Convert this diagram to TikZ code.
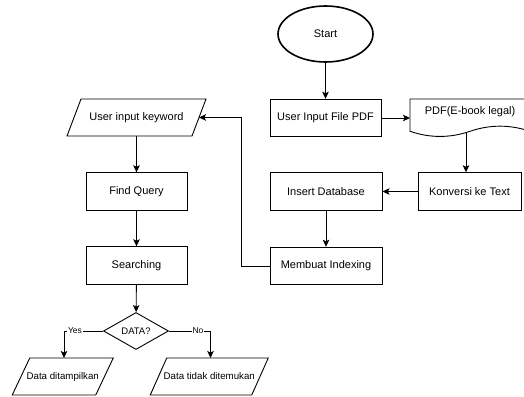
\documentclass[tikz,border=0pt]{standalone}
\usepackage{fontspec}
\setmainfont{Liberation Sans}
\usetikzlibrary{arrows.meta,shapes.geometric}

% parallelogram (input/output): name, centre x, centre y, half width, half slant, text
\newcommand\ioshape[6]{%
  \draw[ioline] ({#2-#4+#5},{#3-18.5}) -- ({#2+#4+#5},{#3-18.5})
    -- ({#2+#4-#5},{#3+18.5}) -- ({#2-#4-#5},{#3+18.5}) -- cycle;
  \node[iotext] (#1) at (#2,#3) {#6};}

\begin{document}
\begin{tikzpicture}[x=1pt,y=-1pt,
  every node/.style={font=\fontsize{11}{13}\selectfont},
  box/.style={draw, line width=0.9pt, fill=white, rectangle, inner sep=0pt,
    minimum width=#1, minimum height=37.5pt},
  ioline/.style={draw, line width=0.9pt, fill=white},
  iotext/.style={inner sep=0pt},
  small/.style={font=\fontsize{9.5}{11}\selectfont},
  arr/.style={-{Stealth[length=7pt,width=6.5pt,inset=1.5pt]}, line width=0.9pt},
  lbl/.style={fill=white, inner sep=0.8pt, font=\fontsize{8.5}{10}\selectfont}]

\useasboundingbox (0,0) rectangle (524,396);
\clip (0,0) rectangle (524,396);
\fill[white] (0,0) rectangle (524,396);

% right column: uploading and indexing
\node[ellipse, draw, line width=1.6pt, fill=white, minimum width=95pt,
  minimum height=56pt, inner sep=0pt] (start) at (325.5,34) {Start};
\node[box=111pt] (userpdf) at (325.5,118) {User Input File PDF};

% document shape with wavy lower edge
\draw[line width=0.9pt, fill=white] (410,99) -- (530,99) -- (530,131.3)
  .. controls (510,124.46) and (490,124.46) .. (470,131.3)
  .. controls (450,138.14) and (430,138.14) .. (410,131.3) -- cycle;
\node[inner sep=0pt] (doc) at (470,112) {PDF(E-book legal)};
\coordinate (docin) at (410,118);
\coordinate (docout) at (466,131.5);

\node[box=103pt] (konv) at (469.5,191.5) {Konversi ke Text};
\node[box=112pt] (insert) at (326,191.5) {Insert Database};
\node[box=112pt] (index) at (326,266) {Membuat Indexing};

% left column: searching
\ioshape{keyword}{136.5}{117.5}{62.5}{7}{User input keyword}
\coordinate (kwin) at (199,117.5);
\node[box=101pt] (find) at (136.5,191.5) {Find Query};
\node[box=101pt] (search) at (136.5,265.5) {Searching};
\node[diamond, draw, line width=0.9pt, fill=white, minimum width=65pt,
  minimum height=37pt, inner sep=0pt, small] (data) at (136,331) {DATA?};

\ioshape{found}{62.75}{376.5}{41.75}{8.75}{\fontsize{9.7}{11}\selectfont Data ditampilkan}
\ioshape{notfound}{209.25}{376.5}{50.75}{8.25}{\fontsize{9.7}{11}\selectfont Data tidak ditemukan}
\coordinate (foundin) at (64,358);
\coordinate (notfoundin) at (210.5,358);

% connectors
\draw[arr] (start) -- (userpdf);
\draw[arr] (userpdf) -- (docin);
\draw[arr] (docout) -- (docout |- konv.north);
\draw[arr] (konv) -- (insert);
\draw[arr] (insert) -- (index);
\draw[arr] (index.west) -- ++(-28,0) |- (kwin);
\draw[arr] (keyword.south |- 0,136) -- (find);
\draw[arr] (find) -- (search);
\draw[arr] (search) -- (data);
\draw[arr] (data.west) -| (foundin) node[lbl, pos=0.36] {Yes};
\draw[arr] (data.east) -| (notfoundin) node[lbl, pos=0.35] {No};
\end{tikzpicture}
\end{document}
